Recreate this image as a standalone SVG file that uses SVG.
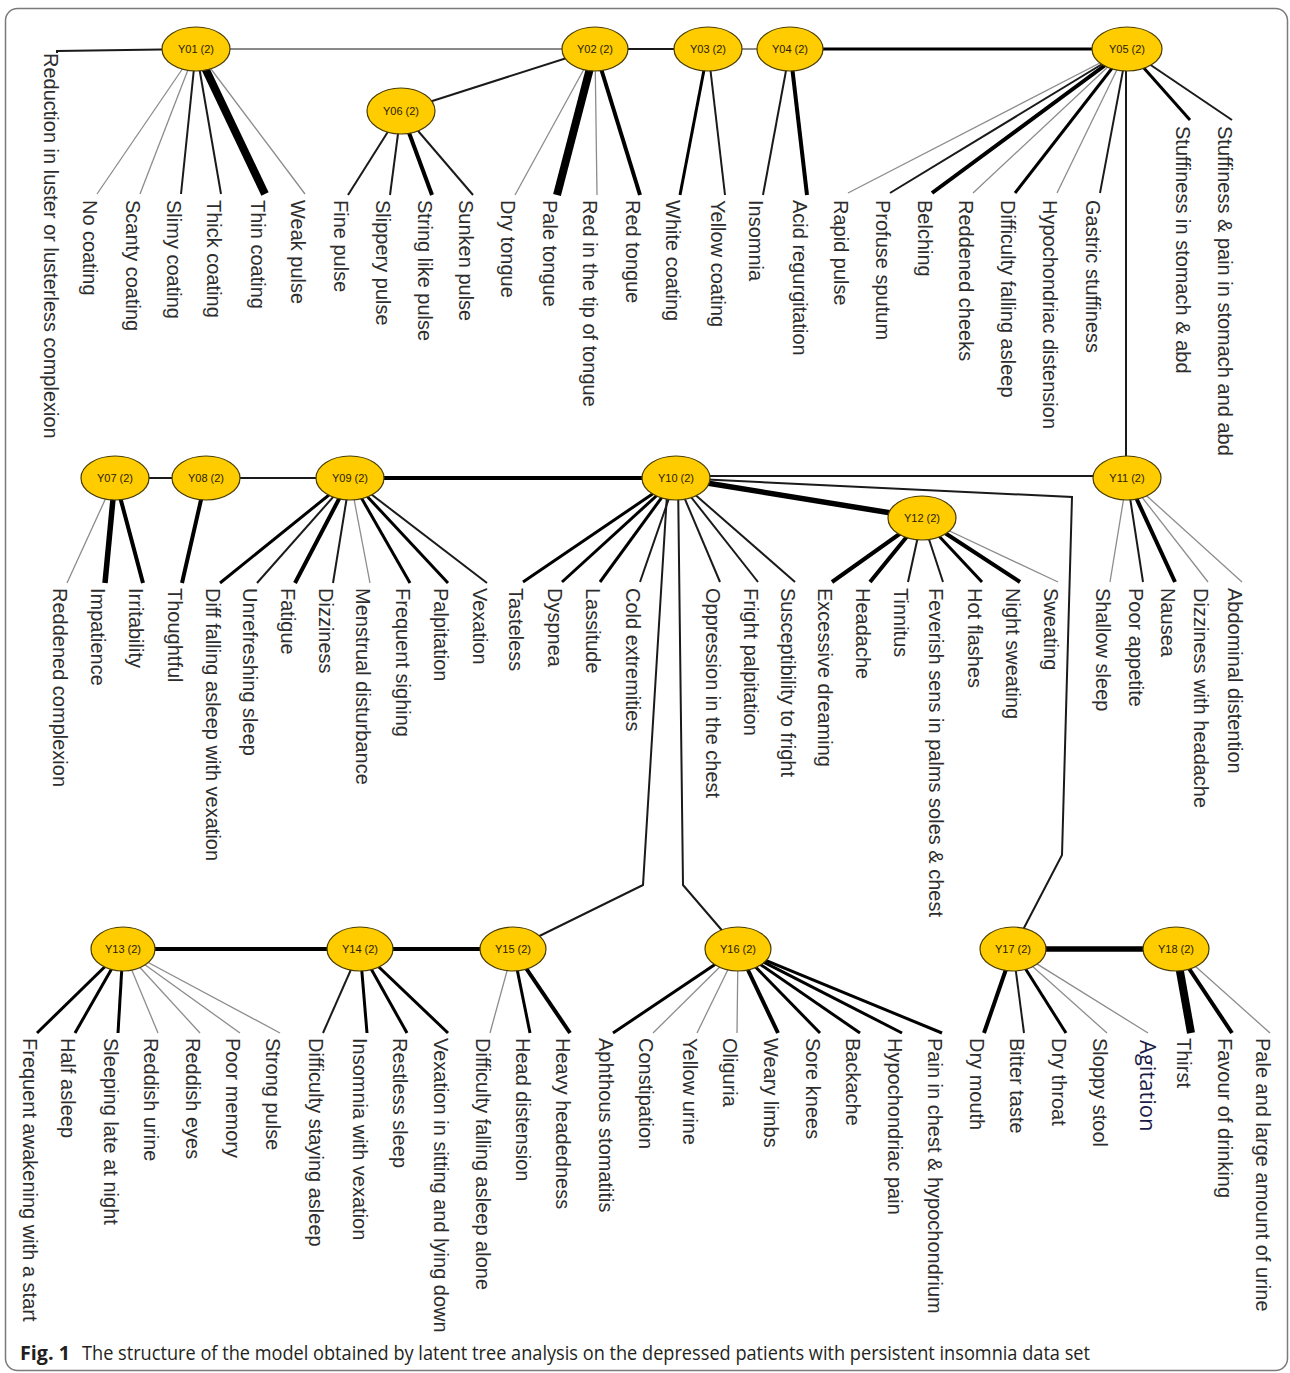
<svg xmlns="http://www.w3.org/2000/svg" width="1290" height="1373" viewBox="0 0 1290 1373">
<style>
.lb{font-family:"Liberation Sans",Arial,sans-serif;font-size:20px;fill:#2d2d2d}
.nt{font-family:"Liberation Sans",Arial,sans-serif;font-size:11px;fill:#2a2200;text-anchor:middle}
.nd{fill:#FFCC00;stroke:#4a3d00;stroke-width:1.2}
.t{stroke:#8c8c8c;stroke-width:1.3;fill:none}
.g2{stroke:#8a8a8a;stroke-width:2;fill:none}
.a{stroke:#1a1a1a;stroke-width:2;fill:none}
.b{stroke:#000;stroke-width:3;fill:none}
.c{stroke:#000;stroke-width:4;fill:none}
.d{stroke:#000;stroke-width:5.5;fill:none}
.e{stroke:#000;stroke-width:8;fill:none}
</style>
<rect x="5.5" y="8.5" width="1282" height="1362" rx="12" fill="#fff" stroke="#7a7a7a" stroke-width="1.5"/>
<g id="connectors">
<polyline class="a" points="196,49 57,51 57,53"/>
<line class="g2" x1="196" y1="49" x2="595" y2="49"/>
<line class="a" x1="595" y1="49" x2="708" y2="49"/>
<line class="g2" x1="708" y1="49" x2="790" y2="49"/>
<line class="b" x1="790" y1="49" x2="1127" y2="49"/>
<line class="a" x1="595" y1="49" x2="401" y2="111"/>
<line class="a" x1="1126" y1="49" x2="1126" y2="478"/>
<line class="t" x1="196" y1="49" x2="97" y2="194"/>
<line class="t" x1="196" y1="49" x2="140" y2="194"/>
<line class="a" x1="196" y1="49" x2="181" y2="194"/>
<line class="a" x1="196" y1="49" x2="221" y2="194"/>
<line class="e" x1="196" y1="49" x2="265" y2="194"/>
<line class="t" x1="196" y1="49" x2="305" y2="194"/>
<line class="a" x1="401" y1="111" x2="348" y2="195"/>
<line class="a" x1="401" y1="111" x2="390" y2="195"/>
<line class="c" x1="401" y1="111" x2="432" y2="195"/>
<line class="a" x1="401" y1="111" x2="473" y2="195"/>
<line class="t" x1="595" y1="49" x2="515" y2="195"/>
<line class="e" x1="595" y1="49" x2="557" y2="195"/>
<line class="t" x1="595" y1="49" x2="597" y2="195"/>
<line class="c" x1="595" y1="49" x2="640" y2="195"/>
<line class="b" x1="708" y1="49" x2="680" y2="195"/>
<line class="a" x1="708" y1="49" x2="725" y2="195"/>
<line class="a" x1="790" y1="49" x2="763" y2="195"/>
<line class="c" x1="790" y1="49" x2="807" y2="195"/>
<line class="t" x1="1127" y1="49" x2="848" y2="193"/>
<line class="a" x1="1127" y1="49" x2="890" y2="193"/>
<line class="c" x1="1127" y1="49" x2="932" y2="193"/>
<line class="t" x1="1127" y1="49" x2="973" y2="193"/>
<line class="b" x1="1127" y1="49" x2="1015" y2="193"/>
<line class="t" x1="1127" y1="49" x2="1057" y2="193"/>
<line class="a" x1="1127" y1="49" x2="1100" y2="193"/>
<line class="b" x1="1127" y1="49" x2="1190" y2="120"/>
<line class="a" x1="1127" y1="49" x2="1232" y2="120"/>
<line class="a" x1="115" y1="478" x2="206" y2="478"/>
<line class="a" x1="206" y1="478" x2="350" y2="478"/>
<line class="c" x1="350" y1="478" x2="676" y2="478"/>
<line class="a" x1="690" y1="476" x2="1127" y2="476"/>
<line class="d" x1="676" y1="478" x2="922" y2="518"/>
<polyline class="a" points="676,478 1072,497 1062,855 1013,949"/>
<polyline class="a" points="668,478 643,885 513,949"/>
<polyline class="a" points="678,478 683,885 738,949"/>
<line class="t" x1="115" y1="478" x2="67" y2="583"/>
<line class="d" x1="115" y1="478" x2="105" y2="583"/>
<line class="c" x1="115" y1="478" x2="143" y2="583"/>
<line class="c" x1="206" y1="478" x2="182" y2="583"/>
<line class="b" x1="350" y1="478" x2="220" y2="583"/>
<line class="a" x1="350" y1="478" x2="257" y2="583"/>
<line class="c" x1="350" y1="478" x2="295" y2="583"/>
<line class="a" x1="350" y1="478" x2="333" y2="583"/>
<line class="t" x1="350" y1="478" x2="370" y2="583"/>
<line class="b" x1="350" y1="478" x2="410" y2="583"/>
<line class="b" x1="350" y1="478" x2="448" y2="583"/>
<line class="a" x1="350" y1="478" x2="487" y2="583"/>
<line class="b" x1="676" y1="478" x2="523" y2="582"/>
<line class="b" x1="676" y1="478" x2="562" y2="582"/>
<line class="b" x1="676" y1="478" x2="600" y2="582"/>
<line class="a" x1="676" y1="478" x2="640" y2="582"/>
<line class="a" x1="676" y1="478" x2="720" y2="582"/>
<line class="a" x1="676" y1="478" x2="758" y2="582"/>
<line class="a" x1="676" y1="478" x2="795" y2="582"/>
<line class="c" x1="922" y1="518" x2="832" y2="582"/>
<line class="c" x1="922" y1="518" x2="870" y2="582"/>
<line class="a" x1="922" y1="518" x2="908" y2="582"/>
<line class="a" x1="922" y1="518" x2="943" y2="582"/>
<line class="b" x1="922" y1="518" x2="982" y2="582"/>
<line class="c" x1="922" y1="518" x2="1020" y2="582"/>
<line class="t" x1="922" y1="518" x2="1058" y2="582"/>
<line class="t" x1="1127" y1="478" x2="1110" y2="582"/>
<line class="a" x1="1127" y1="478" x2="1143" y2="582"/>
<line class="c" x1="1127" y1="478" x2="1175" y2="582"/>
<line class="t" x1="1127" y1="478" x2="1208" y2="582"/>
<line class="t" x1="1127" y1="478" x2="1242" y2="582"/>
<line class="c" x1="123" y1="949" x2="360" y2="949"/>
<line class="c" x1="360" y1="949" x2="513" y2="949"/>
<line class="d" x1="1013" y1="949" x2="1176" y2="949"/>
<line class="b" x1="123" y1="949" x2="37" y2="1033"/>
<line class="b" x1="123" y1="949" x2="75" y2="1033"/>
<line class="b" x1="123" y1="949" x2="118" y2="1033"/>
<line class="t" x1="123" y1="949" x2="158" y2="1033"/>
<line class="t" x1="123" y1="949" x2="200" y2="1033"/>
<line class="t" x1="123" y1="949" x2="240" y2="1033"/>
<line class="t" x1="123" y1="949" x2="280" y2="1033"/>
<line class="a" x1="360" y1="949" x2="323" y2="1033"/>
<line class="b" x1="360" y1="949" x2="367" y2="1033"/>
<line class="b" x1="360" y1="949" x2="407" y2="1033"/>
<line class="b" x1="360" y1="949" x2="448" y2="1033"/>
<line class="t" x1="513" y1="949" x2="490" y2="1033"/>
<line class="b" x1="513" y1="949" x2="530" y2="1033"/>
<line class="c" x1="513" y1="949" x2="570" y2="1033"/>
<line class="b" x1="738" y1="949" x2="613" y2="1033"/>
<line class="t" x1="738" y1="949" x2="653" y2="1033"/>
<line class="t" x1="738" y1="949" x2="697" y2="1033"/>
<line class="t" x1="738" y1="949" x2="737" y2="1033"/>
<line class="c" x1="738" y1="949" x2="778" y2="1033"/>
<line class="b" x1="738" y1="949" x2="820" y2="1033"/>
<line class="b" x1="738" y1="949" x2="860" y2="1033"/>
<line class="b" x1="738" y1="949" x2="902" y2="1033"/>
<line class="b" x1="738" y1="949" x2="942" y2="1033"/>
<line class="c" x1="1013" y1="949" x2="984" y2="1033"/>
<line class="a" x1="1013" y1="949" x2="1024" y2="1033"/>
<line class="b" x1="1013" y1="949" x2="1066" y2="1033"/>
<line class="t" x1="1013" y1="949" x2="1107" y2="1033"/>
<line class="t" x1="1013" y1="949" x2="1148" y2="1033"/>
<line class="e" x1="1176" y1="949" x2="1191" y2="1033"/>
<line class="c" x1="1176" y1="949" x2="1232" y2="1033"/>
<line class="t" x1="1176" y1="949" x2="1270" y2="1033"/>
</g>
<g id="Y01"><ellipse class="nd" cx="196" cy="49" rx="34" ry="22"/><text class="nt" x="196" y="53">Y01 (2)</text></g>
<g id="Y02"><ellipse class="nd" cx="595" cy="49" rx="33" ry="22"/><text class="nt" x="595" y="53">Y02 (2)</text></g>
<g id="Y03"><ellipse class="nd" cx="708" cy="49" rx="34" ry="22"/><text class="nt" x="708" y="53">Y03 (2)</text></g>
<g id="Y04"><ellipse class="nd" cx="790" cy="49" rx="33" ry="22"/><text class="nt" x="790" y="53">Y04 (2)</text></g>
<g id="Y05"><ellipse class="nd" cx="1127" cy="49" rx="35" ry="22"/><text class="nt" x="1127" y="53">Y05 (2)</text></g>
<g id="Y06"><ellipse class="nd" cx="401" cy="111" rx="34" ry="23"/><text class="nt" x="401" y="115">Y06 (2)</text></g>
<g id="Y07"><ellipse class="nd" cx="115" cy="478" rx="34" ry="22"/><text class="nt" x="115" y="482">Y07 (2)</text></g>
<g id="Y08"><ellipse class="nd" cx="206" cy="478" rx="34" ry="22"/><text class="nt" x="206" y="482">Y08 (2)</text></g>
<g id="Y09"><ellipse class="nd" cx="350" cy="478" rx="34" ry="22"/><text class="nt" x="350" y="482">Y09 (2)</text></g>
<g id="Y10"><ellipse class="nd" cx="676" cy="478" rx="34" ry="22"/><text class="nt" x="676" y="482">Y10 (2)</text></g>
<g id="Y11"><ellipse class="nd" cx="1127" cy="478" rx="34" ry="22"/><text class="nt" x="1127" y="482">Y11 (2)</text></g>
<g id="Y12"><ellipse class="nd" cx="922" cy="518" rx="34" ry="22"/><text class="nt" x="922" y="522">Y12 (2)</text></g>
<g id="Y13"><ellipse class="nd" cx="123" cy="949" rx="32" ry="22"/><text class="nt" x="123" y="953">Y13 (2)</text></g>
<g id="Y14"><ellipse class="nd" cx="360" cy="949" rx="33" ry="22"/><text class="nt" x="360" y="953">Y14 (2)</text></g>
<g id="Y15"><ellipse class="nd" cx="513" cy="949" rx="33" ry="22"/><text class="nt" x="513" y="953">Y15 (2)</text></g>
<g id="Y16"><ellipse class="nd" cx="738" cy="949" rx="33" ry="22"/><text class="nt" x="738" y="953">Y16 (2)</text></g>
<g id="Y17"><ellipse class="nd" cx="1013" cy="949" rx="33" ry="22"/><text class="nt" x="1013" y="953">Y17 (2)</text></g>
<g id="Y18"><ellipse class="nd" cx="1176" cy="949" rx="33" ry="22"/><text class="nt" x="1176" y="953">Y18 (2)</text></g>
<g id="labels-row1">
<g id="L01"><text class="lb" transform="translate(43.5,53) rotate(90)">Reduction in luster or lusterless complexion</text></g>
<g id="L02"><text class="lb" transform="translate(82.5,200) rotate(90)">No coating</text></g>
<g id="L03"><text class="lb" transform="translate(125.5,200) rotate(90)">Scanty coating</text></g>
<g id="L04"><text class="lb" transform="translate(166.5,200) rotate(90)">Slimy coating</text></g>
<g id="L05"><text class="lb" transform="translate(206.5,200) rotate(90)">Thick coating</text></g>
<g id="L06"><text class="lb" transform="translate(250.5,200) rotate(90)">Thin coating</text></g>
<g id="L07"><text class="lb" transform="translate(290.5,200) rotate(90)">Weak pulse</text></g>
<g id="L08"><text class="lb" transform="translate(333.5,200) rotate(90)">Fine pulse</text></g>
<g id="L09"><text class="lb" transform="translate(375.5,200) rotate(90)">Slippery pulse</text></g>
<g id="L10"><text class="lb" transform="translate(417.5,200) rotate(90)">String like pulse</text></g>
<g id="L11"><text class="lb" transform="translate(458.5,200) rotate(90)">Sunken pulse</text></g>
<g id="L12"><text class="lb" transform="translate(500.5,200) rotate(90)">Dry tongue</text></g>
<g id="L13"><text class="lb" transform="translate(542.5,200) rotate(90)">Pale tongue</text></g>
<g id="L14"><text class="lb" transform="translate(582.5,200) rotate(90)">Red in the tip of tongue</text></g>
<g id="L15"><text class="lb" transform="translate(625.5,200) rotate(90)">Red tongue</text></g>
<g id="L16"><text class="lb" transform="translate(665.5,200) rotate(90)">White coating</text></g>
<g id="L17"><text class="lb" transform="translate(710.5,200) rotate(90)">Yellow coating</text></g>
<g id="L18"><text class="lb" transform="translate(748.5,200) rotate(90)">Insomnia</text></g>
<g id="L19"><text class="lb" transform="translate(792.5,200) rotate(90)">Acid regurgitation</text></g>
<g id="L20"><text class="lb" transform="translate(833.5,200) rotate(90)">Rapid pulse</text></g>
<g id="L21"><text class="lb" transform="translate(875.5,200) rotate(90)">Profuse sputum</text></g>
<g id="L22"><text class="lb" transform="translate(917.5,200) rotate(90)">Belching</text></g>
<g id="L23"><text class="lb" transform="translate(958.5,200) rotate(90)">Reddened cheeks</text></g>
<g id="L24"><text class="lb" transform="translate(1000.5,200) rotate(90)">Difficulty falling asleep</text></g>
<g id="L25"><text class="lb" transform="translate(1042.5,200) rotate(90)">Hypochondriac distension</text></g>
<g id="L26"><text class="lb" transform="translate(1085.5,200) rotate(90)">Gastric stuffiness</text></g>
<g id="L27"><text class="lb" transform="translate(1175.5,126) rotate(90)">Stuffiness in stomach &amp; abd</text></g>
<g id="L28"><text class="lb" transform="translate(1217.5,126) rotate(90)">Stuffiness &amp; pain in stomach and abd</text></g>
</g>
<g id="labels-row2">
<g id="L29"><text class="lb" transform="translate(52.5,588) rotate(90)">Reddened complexion</text></g>
<g id="L30"><text class="lb" transform="translate(90.5,588) rotate(90)">Impatience</text></g>
<g id="L31"><text class="lb" transform="translate(128.5,588) rotate(90)">Irritability</text></g>
<g id="L32"><text class="lb" transform="translate(167.5,588) rotate(90)">Thoughtful</text></g>
<g id="L33"><text class="lb" transform="translate(205.5,588) rotate(90)">Diff falling asleep with vexation</text></g>
<g id="L34"><text class="lb" transform="translate(242.5,588) rotate(90)">Unrefreshing sleep</text></g>
<g id="L35"><text class="lb" transform="translate(280.5,588) rotate(90)">Fatigue</text></g>
<g id="L36"><text class="lb" transform="translate(318.5,588) rotate(90)">Dizziness</text></g>
<g id="L37"><text class="lb" transform="translate(355.5,588) rotate(90)">Menstrual disturbance</text></g>
<g id="L38"><text class="lb" transform="translate(395.5,588) rotate(90)">Frequent sighing</text></g>
<g id="L39"><text class="lb" transform="translate(433.5,588) rotate(90)">Palpitation</text></g>
<g id="L40"><text class="lb" transform="translate(472.5,588) rotate(90)">Vexation</text></g>
<g id="L41"><text class="lb" transform="translate(508.5,588) rotate(90)">Tasteless</text></g>
<g id="L42"><text class="lb" transform="translate(547.5,588) rotate(90)">Dyspnea</text></g>
<g id="L43"><text class="lb" transform="translate(585.5,588) rotate(90)">Lassitude</text></g>
<g id="L44"><text class="lb" transform="translate(625.5,588) rotate(90)">Cold extremities</text></g>
<g id="L45"><text class="lb" transform="translate(705.5,588) rotate(90)">Oppression in the chest</text></g>
<g id="L46"><text class="lb" transform="translate(743.5,588) rotate(90)">Fright palpitation</text></g>
<g id="L47"><text class="lb" transform="translate(780.5,588) rotate(90)">Susceptibility to fright</text></g>
<g id="L48"><text class="lb" transform="translate(817.5,588) rotate(90)">Excessive dreaming</text></g>
<g id="L49"><text class="lb" transform="translate(855.5,588) rotate(90)">Headache</text></g>
<g id="L50"><text class="lb" transform="translate(893.5,588) rotate(90)">Tinnitus</text></g>
<g id="L51"><text class="lb" transform="translate(928.5,588) rotate(90)">Feverish sens in palms soles &amp; chest</text></g>
<g id="L52"><text class="lb" transform="translate(967.5,588) rotate(90)">Hot flashes</text></g>
<g id="L53"><text class="lb" transform="translate(1005.5,588) rotate(90)">Night sweating</text></g>
<g id="L54"><text class="lb" transform="translate(1043.5,588) rotate(90)">Sweating</text></g>
<g id="L55"><text class="lb" transform="translate(1095.5,588) rotate(90)">Shallow sleep</text></g>
<g id="L56"><text class="lb" transform="translate(1128.5,588) rotate(90)">Poor appetite</text></g>
<g id="L57"><text class="lb" transform="translate(1160.5,588) rotate(90)">Nausea</text></g>
<g id="L58"><text class="lb" transform="translate(1193.5,588) rotate(90)">Dizziness with headache</text></g>
<g id="L59"><text class="lb" transform="translate(1227.5,588) rotate(90)">Abdominal distention</text></g>
</g>
<g id="labels-row3">
<g id="L60"><text class="lb" transform="translate(22.5,1038) rotate(90)">Frequent awakening with a start</text></g>
<g id="L61"><text class="lb" transform="translate(60.5,1038) rotate(90)">Half asleep</text></g>
<g id="L62"><text class="lb" transform="translate(103.5,1038) rotate(90)">Sleeping late at night</text></g>
<g id="L63"><text class="lb" transform="translate(143.5,1038) rotate(90)">Reddish urine</text></g>
<g id="L64"><text class="lb" transform="translate(185.5,1038) rotate(90)">Reddish eyes</text></g>
<g id="L65"><text class="lb" transform="translate(225.5,1038) rotate(90)">Poor memory</text></g>
<g id="L66"><text class="lb" transform="translate(265.5,1038) rotate(90)">Strong pulse</text></g>
<g id="L67"><text class="lb" transform="translate(308.5,1038) rotate(90)">Difficulty staying asleep</text></g>
<g id="L68"><text class="lb" transform="translate(352.5,1038) rotate(90)">Insomnia with vexation</text></g>
<g id="L69"><text class="lb" transform="translate(392.5,1038) rotate(90)">Restless sleep</text></g>
<g id="L70"><text class="lb" transform="translate(433.5,1038) rotate(90)">Vexation in sitting and lying down</text></g>
<g id="L71"><text class="lb" transform="translate(475.5,1038) rotate(90)">Difficulty falling asleep alone</text></g>
<g id="L72"><text class="lb" transform="translate(515.5,1038) rotate(90)">Head distension</text></g>
<g id="L73"><text class="lb" transform="translate(555.5,1038) rotate(90)">Heavy headedness</text></g>
<g id="L74"><text class="lb" transform="translate(598.5,1038) rotate(90)">Aphthous stomatitis</text></g>
<g id="L75"><text class="lb" transform="translate(638.5,1038) rotate(90)">Constipation</text></g>
<g id="L76"><text class="lb" transform="translate(682.5,1038) rotate(90)">Yellow urine</text></g>
<g id="L77"><text class="lb" transform="translate(722.5,1038) rotate(90)">Oliguria</text></g>
<g id="L78"><text class="lb" transform="translate(763.5,1038) rotate(90)">Weary limbs</text></g>
<g id="L79"><text class="lb" transform="translate(805.5,1038) rotate(90)">Sore knees</text></g>
<g id="L80"><text class="lb" transform="translate(845.5,1038) rotate(90)">Backache</text></g>
<g id="L81"><text class="lb" transform="translate(887.5,1038) rotate(90)">Hypochondriac pain</text></g>
<g id="L82"><text class="lb" transform="translate(927.5,1038) rotate(90)">Pain in chest &amp; hypochondrium</text></g>
<g id="L83"><text class="lb" transform="translate(969.5,1038) rotate(90)">Dry mouth</text></g>
<g id="L84"><text class="lb" transform="translate(1009.5,1038) rotate(90)">Bitter taste</text></g>
<g id="L85"><text class="lb" transform="translate(1051.5,1038) rotate(90)">Dry throat</text></g>
<g id="L86"><text class="lb" transform="translate(1092.5,1038) rotate(90)">Sloppy stool</text></g>
<g id="L87"><text transform="translate(1140,1040) rotate(90)" style="font-family:'Open Sans','Liberation Sans',sans-serif;font-size:22px;fill:#1c1c48">Agitation</text></g>
<g id="L88"><text class="lb" transform="translate(1176.5,1038) rotate(90)">Thirst</text></g>
<g id="L89"><text class="lb" transform="translate(1217.5,1038) rotate(90)">Favour of drinking</text></g>
<g id="L90"><text class="lb" transform="translate(1255.5,1038) rotate(90)">Pale and large amount of urine</text></g>
</g>
<g id="caption">
<text x="20" y="1360" style="font-family:'Open Sans','Liberation Sans',sans-serif;font-size:20px;fill:#231f20;font-weight:bold" textLength="50" lengthAdjust="spacingAndGlyphs">Fig. 1</text>
<text x="82" y="1360" style="font-family:'Open Sans','Liberation Sans',sans-serif;font-size:20px;fill:#231f20" textLength="1008" lengthAdjust="spacingAndGlyphs">The structure of the model obtained by latent tree analysis on the depressed patients with persistent insomnia data set</text>
</g>
</svg>
